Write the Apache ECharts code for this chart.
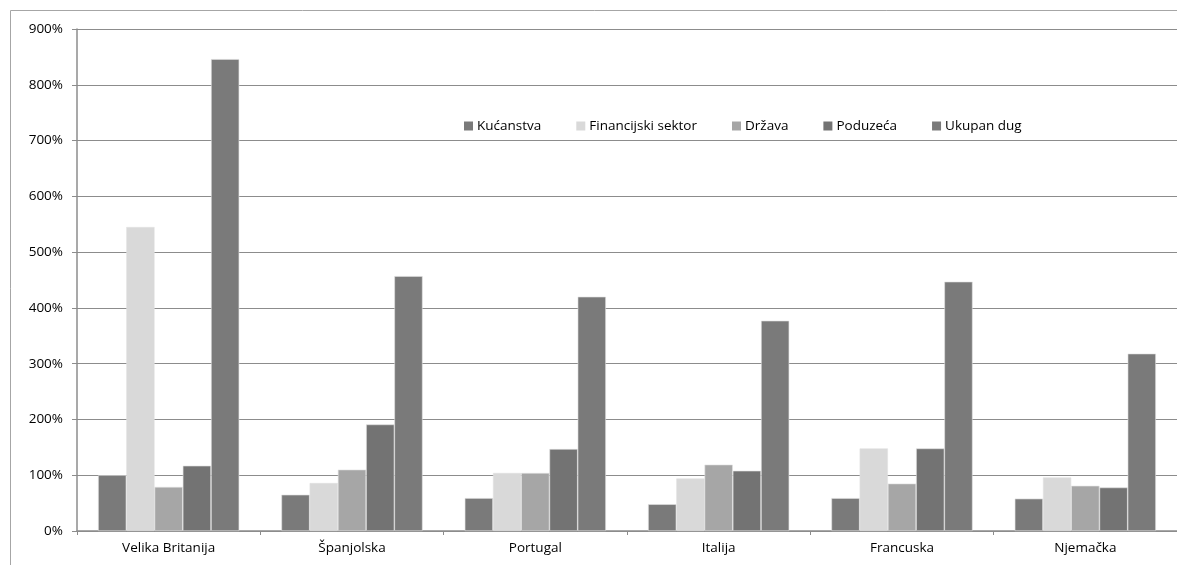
<!DOCTYPE html>
<html>
<head>
<meta charset="utf-8">
<script src="https://cdn.jsdelivr.net/npm/echarts@6/dist/echarts.min.js"></script>
<style>
html,body{margin:0;padding:0;background:#fff;}
#chart{width:1177px;height:565px;}
</style>
</head>
<body>
<div id="chart"></div>
<script>
const categories = ['Velika Britanija', 'Španjolska', 'Portugal', 'Italija', 'Francuska', 'Njemačka'];
const seriesNames = ['Kućanstva', 'Financijski sektor', 'Država', 'Poduzeća', 'Ukupan dug'];
const kucanstva = [100, 65, 59, 48, 59, 58];
const financijski = [545, 86, 104, 94, 148, 96];
const drzava = [79, 110, 104, 119, 85, 81];
const poduzeca = [117, 191, 147, 108, 148, 78];
const ukupan = [846, 457, 420, 377, 447, 318];
const yTicks = [0, 100, 200, 300, 400, 500, 600, 700, 800, 900];

const colors = ['#7a7a7a', '#d9d9d9', '#a6a6a6', '#737373', '#7a7a7a'];
const seriesData = [kucanstva, financijski, drzava, poduzeca, ukupan];

const chart = echarts.init(document.getElementById('chart'));
const font = 'Open Sans, Liberation Sans, sans-serif';
chart.setOption({
  animation: false,
  backgroundColor: '#fff',
  textStyle: {fontFamily: font},
  graphic: [{
    type: 'rect',
    shape: {x: 10.5, y: 10.5, width: 1200, height: 600},
    style: {fill: 'none', stroke: '#a6a6a6', lineWidth: 1},
    silent: true, z: -1
  }],
  legend: {
    left: 459, top: 114,
    itemWidth: 9, itemHeight: 9, itemGap: 35,
    icon: 'rect',
    itemStyle: {borderWidth: 0},
    textStyle: {fontSize: 13.5, color: '#000', fontFamily: font, padding: [0, 0, 0, -1]},
    data: seriesNames
  },
  grid: {left: 77, top: 29, width: 1103, bottom: 34, containLabel: false},
  xAxis: {
    type: 'category',
    data: categories,
    boundaryGap: true,
    axisLine: {lineStyle: {color: '#8c8c8c', width: 1.5}},
    axisTick: {show: true, length: 4, lineStyle: {color: '#8c8c8c'}},
    axisLabel: {color: '#000', fontSize: 13.5, margin: 10, fontFamily: font}
  },
  yAxis: {
    type: 'value',
    min: yTicks[0], max: yTicks[yTicks.length - 1], interval: 100,
    axisLine: {show: true, lineStyle: {color: '#8c8c8c', width: 1.5}},
    axisTick: {show: true, length: 5, lineStyle: {color: '#8c8c8c'}},
    axisLabel: {color: '#000', fontSize: 13.5, margin: 14, formatter: '{value}%', fontFamily: font},
    splitLine: {lineStyle: {color: '#8c8c8c', width: 1.2}}
  },
  series: seriesNames.map((name, i) => ({
    name: name,
    type: 'bar',
    data: seriesData[i],
    barGap: '0%',
    barCategoryGap: '23%',
    itemStyle: {color: colors[i], borderColor: '#e0e0e0', borderWidth: 0.6}
  }))
});
</script>
</body>
</html>
